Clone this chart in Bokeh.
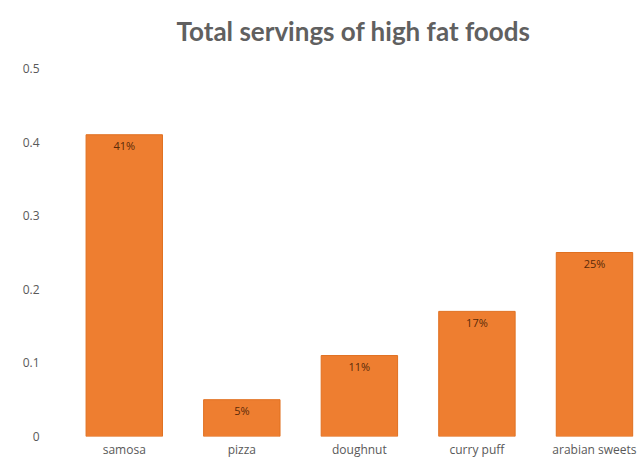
from bokeh.plotting import figure
from bokeh.models import ColumnDataSource, Range1d, FixedTicker, Title
from bokeh.core.properties import value
from bokeh.embed import file_html
from bokeh.resources import INLINE

categories = ["samosa", "pizza", "doughnut", "curry puff", "arabian sweets"]
servings = [0.41, 0.05, 0.11, 0.17, 0.25]
y_ticks = [0, 0.1, 0.2, 0.3, 0.4, 0.5]
y_tick_labels = ["0", "0.1", "0.2", "0.3", "0.4", "0.5"]

xs = list(range(len(categories)))
labels = [f"{round(v * 100)}%" for v in servings]
src = ColumnDataSource(dict(x=xs, y=servings, label=labels))

p = figure(width=641, height=460, output_backend="svg", toolbar_location=None,
           x_range=Range1d(-0.5, 4.40), y_range=Range1d(0, 0.5136),
           min_border_left=65, min_border_right=0, min_border_bottom=0,
           min_border_top=58)
p.title = Title(text="Total servings of high fat foods", align="center",
                text_font="Lato", text_font_size="26px",
                text_color="#606060", text_font_style="bold", standoff=23)
p.outline_line_color = None
p.background_fill_color = "white"
p.border_fill_color = "white"
p.xgrid.visible = False
p.ygrid.visible = False

p.vbar(x="x", top="y", width=0.65, bottom=0, source=src,
       fill_color="#EE7E30", line_color="#E07020", line_width=1)
p.text(x="x", y="y", text="label", source=src, y_offset=11,
       text_align="center", text_baseline="middle",
       text_font=value("Open Sans"), text_font_size="11px", text_color="#5a2a08")

for ax in (p.xaxis[0], p.yaxis[0]):
    ax.axis_line_color = None
    ax.major_tick_line_color = None
    ax.minor_tick_line_color = None
    ax.major_tick_out = 0
    ax.major_tick_in = 0
    ax.minor_tick_out = 0
    ax.minor_tick_in = 0
    ax.major_label_text_font = "Open Sans"
    ax.major_label_text_font_size = "12px"
    ax.major_label_text_color = "#595959"

p.xaxis[0].ticker = FixedTicker(ticks=xs)
p.xaxis[0].major_label_overrides = {i: c for i, c in zip(xs, categories)}
p.xaxis[0].major_label_standoff = 4
p.yaxis[0].ticker = FixedTicker(ticks=y_ticks)
p.yaxis[0].major_label_overrides = {t: l for t, l in zip(y_ticks, y_tick_labels)}
p.yaxis[0].major_label_standoff = 26

open("out.html", "w").write(file_html(p, INLINE))
